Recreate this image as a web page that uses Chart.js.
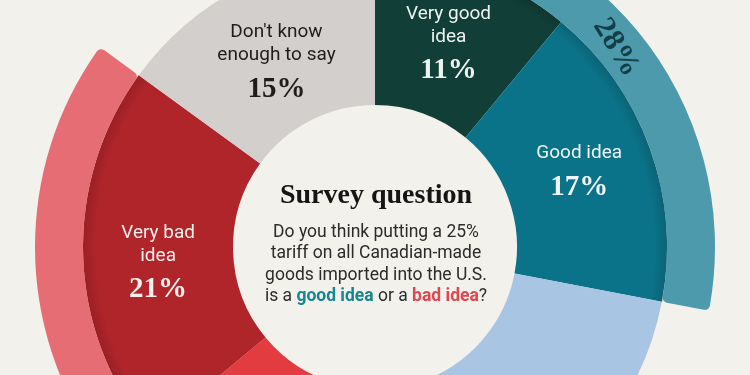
<!DOCTYPE html>
<html>
<head>
<meta charset="utf-8">
<script src="https://cdn.jsdelivr.net/npm/chart.js@4.4.1/dist/chart.umd.min.js"></script>
<style>
  html, body { margin:0; padding:0; width:750px; height:375px; overflow:hidden; background:#f2f1ec; }
  #wrap { position:absolute; left:25px; top:-103px; width:700px; height:700px; }
  #title { position:absolute; left:226px; width:300px; top:177px; text-align:center;
    font-family:"Liberation Serif", serif; font-weight:bold; font-size:28px; line-height:34px; color:#151515; }
  #question { position:absolute; left:226px; width:300px; top:221px; text-align:center;
    font-family:Roboto, "Noto Sans", sans-serif; font-size:17.5px; line-height:21.3px; color:#2b2b2b; }
  #question .g { color:#178592; font-weight:bold; }
  #question .b { color:#e0474c; font-weight:bold; }
</style>
</head>
<body>
<div id="wrap"><canvas id="c" width="700" height="700"></canvas></div>
<div id="title">Survey question</div>
<div id="question">Do you think putting a 25%<br>tariff on all Canadian-made<br>goods imported into the U.S.<br>is a <span class="g">good idea</span> or a <span class="b">bad idea</span>?</div>
<script>
// ---- data ----
const categories = ['Very good idea', 'Good idea', 'Neither', 'Bad idea', 'Very bad idea', "Don't know enough to say"];
const values = [11, 17, 17, 19, 21, 15];
const segmentLabelLines = [['Very good', 'idea'], ['Good idea'], [], [], ['Very bad', 'idea'], ["Don't know", 'enough to say']];
const groupCategories = ['Good idea (total)', 'Neither', 'Bad idea (total)', "Don't know"];
const groupValues = [28, 17, 40, 15];
const groupLabelShown = [true, false, false, false];

// ---- styles ----
const segmentColors = ['#113f38', '#0b7389', '#a8c6e4', '#e23c41', '#b0252a', '#d3cfcc'];
const segmentTextColors = ['#eef3ef', '#eef6f7', '#222', '#fff', '#f8eeee', '#1d1d1d'];
const labelNudgeY = [-2, -4, 0, 0, 6, 6];
const groupColors = ['#4c9aab', 'rgba(0,0,0,0)', '#e56d73', 'rgba(0,0,0,0)'];

const shadowPlugin = {
  id: 'ringShadow',
  afterDatasetDraw(chart, args) {
    if (args.index !== 1) return;
    const ctx = chart.ctx;
    const meta0 = chart.getDatasetMeta(0);
    meta0.data.forEach((arc, i) => {
      if (!groupColors[i] || groupColors[i].startsWith('rgba(0,0,0,0')) return;
      const p = arc.getProps(['x', 'y', 'startAngle', 'endAngle', 'innerRadius'], true);
      const r1 = p.innerRadius + 1, r0 = p.innerRadius - 13;
      const g = ctx.createRadialGradient(p.x, p.y, r0, p.x, p.y, r1);
      g.addColorStop(0, 'rgba(0,0,0,0)');
      g.addColorStop(1, 'rgba(0,0,0,0.14)');
      ctx.save();
      ctx.beginPath();
      ctx.arc(p.x, p.y, r1, p.startAngle, p.endAngle);
      ctx.arc(p.x, p.y, r0, p.endAngle, p.startAngle, true);
      ctx.closePath();
      ctx.fillStyle = g;
      ctx.fill();
      ctx.restore();
    });
  }
};

const labelPlugin = {
  id: 'segLabels',
  afterDatasetsDraw(chart) {
    const ctx = chart.ctx;
    ctx.save();
    ctx.textAlign = 'center';
    ctx.textBaseline = 'middle';
    const meta1 = chart.getDatasetMeta(1);
    meta1.data.forEach((arc, i) => {
      const lines = segmentLabelLines[i];
      if (!lines || !lines.length) return;
      const p = arc.getProps(['x', 'y', 'startAngle', 'endAngle', 'innerRadius', 'outerRadius'], true);
      const mid = (p.startAngle + p.endAngle) / 2;
      const r = (p.innerRadius + p.outerRadius) / 2;
      const cx = p.x + Math.cos(mid) * r;
      const cy = p.y + Math.sin(mid) * r + labelNudgeY[i];
      ctx.fillStyle = segmentTextColors[i];
      ctx.font = '19px Roboto, "Noto Sans", sans-serif';
      let pctY;
      if (lines.length === 2) {
        ctx.fillText(lines[0], cx, cy - 27);
        ctx.fillText(lines[1], cx, cy - 4);
        pctY = cy + 30;
      } else {
        ctx.fillText(lines[0], cx, cy - 16);
        pctY = cy + 18;
      }
      ctx.font = 'bold 29px "Liberation Serif", serif';
      ctx.fillText(values[i] + '%', cx, pctY);
    });
    const meta0 = chart.getDatasetMeta(0);
    meta0.data.forEach((arc, i) => {
      if (!groupLabelShown[i]) return;
      const p = arc.getProps(['x', 'y', 'startAngle', 'endAngle', 'innerRadius', 'outerRadius'], true);
      const mid = (p.startAngle + p.endAngle) / 2;
      const r = (p.innerRadius + p.outerRadius) / 2 - 3;
      ctx.save();
      ctx.translate(p.x + Math.cos(mid) * r, p.y + Math.sin(mid) * r);
      ctx.rotate(mid + Math.PI / 2 + 0.14);
      ctx.fillStyle = '#153f47';
      ctx.font = 'bold 31px "Liberation Serif", serif';
      ctx.fillText(groupValues[i] + '%', 0, 0);
      ctx.restore();
    });
    ctx.restore();
  }
};

new Chart(document.getElementById('c'), {
  type: 'doughnut',
  data: {
    labels: categories,
    datasets: [
      { label: 'Totals', data: groupValues, backgroundColor: groupColors, borderWidth: 0, borderRadius: 5, weight: 48 },
      { label: 'Answers', data: values, backgroundColor: segmentColors, borderWidth: 0, weight: 150 }
    ]
  },
  options: {
    responsive: false,
    animation: false,
    cutout: 142,
    hoverOffset: 0,
    layout: { padding: 10 },
    plugins: { legend: { display: false }, tooltip: { enabled: false } }
  },
  plugins: [shadowPlugin, labelPlugin]
});
</script>
</body>
</html>
